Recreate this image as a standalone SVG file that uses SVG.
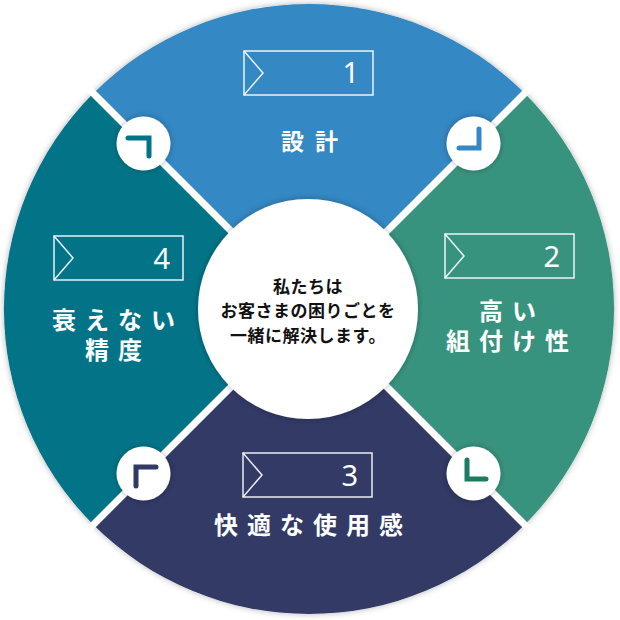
<svg xmlns="http://www.w3.org/2000/svg" width="620" height="620" viewBox="0 0 620 620">
<defs>
<filter id="sh" x="-20%" y="-20%" width="140%" height="140%">
<feDropShadow dx="0" dy="0" stdDeviation="3" flood-color="#000" flood-opacity="0.3"/>
</filter>
<style>
.lbl{font-family:"Noto Sans CJK JP","Noto Sans",sans-serif;font-weight:bold;font-size:24px;fill:#fff;text-anchor:middle;letter-spacing:9px}
.num{font-family:"Noto Sans","Liberation Sans",sans-serif;font-size:29px;fill:#fff;text-anchor:end}
.box{fill:none;stroke:#fff;stroke-width:1.5;stroke-opacity:0.9}
.ctr{font-family:"Noto Sans CJK JP",sans-serif;font-weight:bold;font-size:17px;fill:#111;text-anchor:middle;letter-spacing:0.5px}
.gap{stroke:#fff;stroke-width:7}
.mark{fill:none;stroke-width:5;stroke-linecap:round;stroke-linejoin:miter}
.dot{fill:#fff;filter:url(#sh)}
</style>
</defs>
<rect width="620" height="620" fill="#fff"/>
<circle cx="309" cy="309" r="305" fill="#fff" filter="url(#sh)"/>
<g id="seg1">
<path d="M309,309 L93.3,93.3 A305,305 0 0 1 524.7,93.3 Z" fill="#3488c3"/>
<rect class="box" x="244" y="51" width="129" height="44"/>
<polyline class="box" points="244,51 263,73 244,95"/>
<text class="num" x="359" y="83">1</text>
<text class="lbl" x="315" y="150" style="font-size:23px;letter-spacing:11px">設計</text>
</g>
<g id="seg2">
<path d="M309,309 L524.7,93.3 A305,305 0 0 1 524.7,524.7 Z" fill="#38937e"/>
<rect class="box" x="445" y="234" width="129" height="44"/>
<polyline class="box" points="445,234 464,256 445,278"/>
<text class="num" x="560" y="267">2</text>
<text class="lbl" x="512" y="320">高い</text>
<text class="lbl" x="512" y="350">組付け性</text>
</g>
<g id="seg3">
<path d="M309,309 L524.7,524.7 A305,305 0 0 1 93.3,524.7 Z" fill="#323a65"/>
<rect class="box" x="243" y="453" width="129" height="44"/>
<polyline class="box" points="243,453 262,475 243,497"/>
<text class="num" x="358" y="486">3</text>
<text class="lbl" x="313" y="534">快適な使用感</text>
</g>
<g id="seg4">
<path d="M309,309 L93.3,524.7 A305,305 0 0 1 93.3,93.3 Z" fill="#037488"/>
<rect class="box" x="54" y="236" width="129" height="44"/>
<polyline class="box" points="54,236 73,258 54,280"/>
<text class="num" x="170" y="269">4</text>
<text class="lbl" x="118" y="329">衰えない</text>
<text class="lbl" x="118" y="359">精度</text>
</g>
<g id="gaps">
<line class="gap" x1="309" y1="309" x2="80" y2="80"/>
<line class="gap" x1="309" y1="309" x2="538" y2="80"/>
<line class="gap" x1="309" y1="309" x2="538" y2="538"/>
<line class="gap" x1="309" y1="309" x2="80" y2="538"/>
</g>
<g id="center">
<circle cx="308" cy="309" r="110" fill="#fff" filter="url(#sh)"/>
<text class="ctr" x="308" y="293">私たちは</text>
<text class="ctr" x="308" y="317">お客さまの困りごとを</text>
<text class="ctr" x="308" y="342">一緒に解決します。</text>
</g>
<g id="connectors">
<circle class="dot" cx="143.5" cy="143.5" r="27"/>
<path class="mark" d="M128,138 H149 V156" stroke="#037488"/>
<circle class="dot" cx="473.5" cy="143.5" r="27"/>
<path class="mark" d="M479,129 V148 H459" stroke="#3488c3"/>
<circle class="dot" cx="473.5" cy="473.5" r="27"/>
<path class="mark" d="M467,460 V479 H486" stroke="#1d7a63"/>
<circle class="dot" cx="143.5" cy="473.5" r="27"/>
<path class="mark" d="M136,486 V467 H156" stroke="#323a65"/>
</g>
</svg>
